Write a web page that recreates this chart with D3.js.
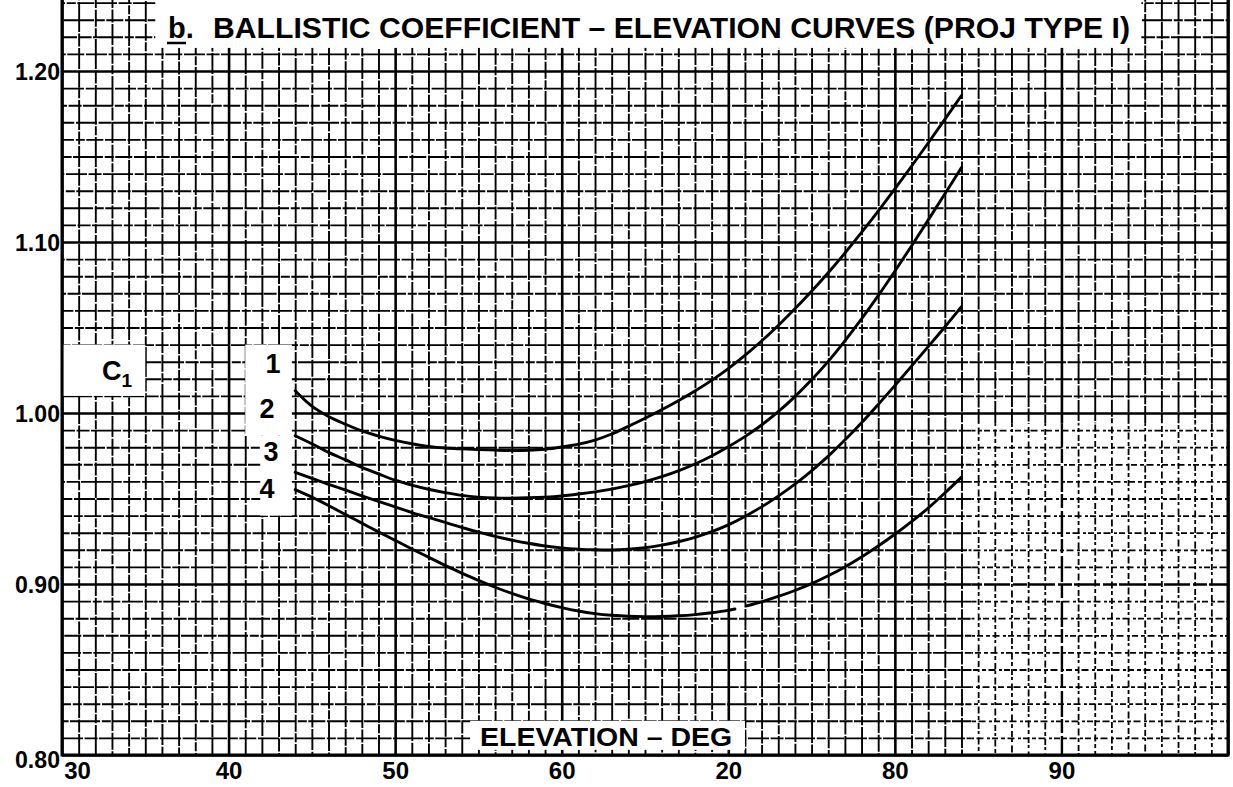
<!DOCTYPE html>
<html>
<head>
<meta charset="utf-8">
<script src="https://cdn.jsdelivr.net/npm/d3@7"></script>
<style>
  html, body { margin: 0; padding: 0; background: #fff; }
  svg { display: block; }
  text { font-family: "Liberation Sans", Arial, sans-serif; font-weight: bold; fill: #000; }
</style>
</head>
<body>
<svg id="chart" width="1233" height="787"></svg>
<script>
// Elevation (deg) at which the curves are read
const elevation = [44, 45, 46, 47, 48, 49, 50, 51, 52, 53, 54, 55, 56, 57, 58, 59, 60, 61, 62, 63, 64,
                   65, 66, 67, 68, 69, 70, 71, 72, 73, 74, 75, 76, 77, 78, 79, 80, 81, 82, 83, 84];

// Ballistic coefficient C1, curves 1-3
const curve1 = [1.013, 1.004, 0.998, 0.9935, 0.9895, 0.9865, 0.984, 0.982, 0.9805, 0.9795, 0.979,
                0.9786, 0.9783, 0.9781, 0.9782, 0.9788, 0.9801, 0.9818, 0.9842, 0.9877, 0.9922,
                0.9969, 1.0019, 1.0072, 1.0129, 1.0191, 1.026, 1.0337, 1.0421, 1.0512, 1.0609,
                1.0712, 1.082, 1.0935, 1.1056, 1.1181, 1.131, 1.1443, 1.1579, 1.1717, 1.1857];
const curve2 = [0.9867, 0.982, 0.977, 0.9727, 0.9682, 0.9644, 0.9607, 0.9578, 0.9554, 0.9534, 0.9518,
                0.9508, 0.9503, 0.9502, 0.9504, 0.9508, 0.9515, 0.9526, 0.9539, 0.9555, 0.9575,
                0.9599, 0.9628, 0.9662, 0.9702, 0.9749, 0.9803, 0.9862, 0.993, 1.0008, 1.0096,
                1.0194, 1.0302, 1.0422, 1.055, 1.0686, 1.0829, 1.0977, 1.1128, 1.1281, 1.1435];
const curve3 = [0.9653, 0.9618, 0.9583, 0.955, 0.9516, 0.9483, 0.9451, 0.9418, 0.9389, 0.936, 0.9331,
                0.9303, 0.9279, 0.9257, 0.9238, 0.9222, 0.9211, 0.9204, 0.92, 0.9199, 0.9203,
                0.9212, 0.9227, 0.9247, 0.9273, 0.9306, 0.9346, 0.9395, 0.9451, 0.9514, 0.9584,
                0.9662, 0.9748, 0.9842, 0.9943, 1.005, 1.0161, 1.0274, 1.0388, 1.0503, 1.0622];

// Curve 4 has a short break just past 70 deg (null marks the gap)
const elevation4 = [44, 45, 46, 47, 48, 49, 50, 51, 52, 53, 54, 55, 56, 57, 58, 59, 60, 61, 62, 63, 64,
                    65, 66, 67, 68, 69, 70, 70.4, 70.75, 71.1, 72, 73, 74, 75, 76, 77, 78, 79, 80,
                    81, 82, 83, 84];
const curve4 = [0.9552, 0.9508, 0.9459, 0.9407, 0.9356, 0.9305, 0.9255, 0.9205, 0.9157, 0.9109, 0.9064,
                0.9021, 0.8981, 0.8945, 0.8913, 0.8886, 0.8862, 0.8842, 0.8827, 0.8817, 0.8811,
                0.8809, 0.881, 0.8814, 0.8821, 0.8832, 0.8846, 0.8854, null, 0.8872, 0.8896,
                0.8927, 0.8962, 0.9002, 0.9048, 0.91, 0.9158, 0.9222, 0.9291, 0.9365, 0.9444,
                0.9532, 0.9625];

const curveNames = ["1", "2", "3", "4"];

// Axis ticks and labels (as lettered on the sheet)
const xTicks = [30, 40, 50, 60, 70, 80, 90];
const xTickLabels = ["30", "40", "50", "60", "20", "80", "90"];
const yTicks = [0.80, 0.90, 1.00, 1.10, 1.20];
const yTickLabels = ["0.80", "0.90", "1.00", "1.10", "1.20"];

const titleText = "BALLISTIC COEFFICIENT – ELEVATION CURVES (PROJ TYPE I)";
const xTitle = "ELEVATION – DEG";

// ---------------------------------------------------------------------------
const svg = d3.select("#chart");
const x = d3.scaleLinear().domain([30, 100]).range([62, 1228]);
const y = d3.scaleLinear().domain([0.80, 1.20]).range([755, 71]);
const yTop = 1.25;   // graph paper runs off the top of the sheet

svg.append("rect").attr("width", 1233).attr("height", 787).attr("fill", "#fff");

// ---- graph paper: 1-deg by 0.01 squares, heavier every 10 squares ----
const minorX = d3.range(30, 101).filter(d => d % 10);
const minorY = d3.range(80, 126).filter(d => d % 10).map(v => v / 100);
const majorX = d3.range(30, 101, 10);
const majorY = d3.range(80, 126, 10).map(v => v / 100);

const gridH = y(0.80) - y(yTop);
const gridW = x(100) - x(30);

// the lower right of the sheet printed lighter, with broken rulings
const faint = { x0: 84.6, x1: 100, y0: 0.994, y1: 0.80 };
const defs = svg.append("defs");
defs.append("clipPath").attr("id", "clip-main").append("path")
  .attr("clip-rule", "evenodd")
  .attr("d", `M0,-20H1233V787H0Z M${x(faint.x0)},${y(faint.y0)}H${x(faint.x1) - 1.5}V${y(faint.y1)}H${x(faint.x0)}Z`);
defs.append("clipPath").attr("id", "clip-faint").append("rect")
  .attr("x", x(faint.x0)).attr("y", y(faint.y0))
  .attr("width", x(faint.x1) - x(faint.x0)).attr("height", y(faint.y1) - y(faint.y0));

function gridLayer(parent, axis, translate, width, dash, offsetStep) {
  const g = parent.append("g").attr("transform", translate).call(axis);
  g.select(".domain").remove();
  g.selectAll(".tick line")
    .attr("stroke", "#000")
    .attr("stroke-width", width)
    .attr("stroke-dasharray", dash)
    .attr("stroke-dashoffset", (d, i) => (i * offsetStep) % 97);
  return g;
}

function paper(parent, minorW, majorW, dashMinor, dashMajor) {
  gridLayer(parent, d3.axisBottom(x).tickValues(minorX).tickSize(-gridH).tickFormat(""),
            `translate(0,${y(0.80)})`, minorW, dashMinor, 37);
  gridLayer(parent, d3.axisLeft(y).tickValues(minorY).tickSize(-gridW).tickFormat(""),
            `translate(${x(30)},0)`, minorW, dashMinor, 29);
  gridLayer(parent, d3.axisBottom(x).tickValues(majorX).tickSize(-gridH).tickFormat(""),
            `translate(0,${y(0.80)})`, majorW, dashMajor, 41);
  gridLayer(parent, d3.axisLeft(y).tickValues(majorY).tickSize(-gridW).tickFormat(""),
            `translate(${x(30)},0)`, majorW, dashMajor, 23);
}

paper(svg.append("g").attr("clip-path", "url(#clip-main)"), 1.9, 2.6,
      "21 1.6 13 1.4 30 1.8 9 1.5 17 1.7", null);
paper(svg.append("g").attr("clip-path", "url(#clip-faint)"), 1.8, 2.4,
      "6 3 4 2.5 7 3.5 3 2", "26 3 14 2");

// frame
svg.append("path")
  .attr("d", `M${x(30)},0 V${y(0.80)} H${x(100)} V0`)
  .attr("fill", "none").attr("stroke", "#000").attr("stroke-width", 3);

// ---- white lettering panels on the paper ----
const panels = [
  { x0: 35.6, x1: 94.8, y0: 1.242, y1: 1.2135 },   // title
  { x0: 30.1, x1: 35.0, y0: 1.04, y1: 1.01 },      // C1
  { x0: 41.0, x1: 43.8, y0: 1.04, y1: 0.987 },     // labels 1, 2
  { x0: 41.9, x1: 43.8, y0: 0.987, y1: 0.94 },     // labels 3, 4
  { x0: 54.5, x1: 71.0, y0: 0.82, y1: 0.803 }      // axis title
];
svg.append("g").selectAll("rect").data(panels).join("rect")
  .attr("x", d => x(d.x0)).attr("y", d => y(d.y0))
  .attr("width", d => x(d.x1) - x(d.x0)).attr("height", d => y(d.y1) - y(d.y0))
  .attr("fill", "#fff");

// ---- curves ----
const line = d3.line()
  .defined(d => d[1] != null)
  .x(d => x(d[0])).y(d => y(d[1]))
  .curve(d3.curveCatmullRom.alpha(0.5));

const series = [
  d3.zip(elevation, curve1),
  d3.zip(elevation, curve2),
  d3.zip(elevation, curve3),
  d3.zip(elevation4, curve4)
];
svg.append("g").selectAll("path").data(series).join("path")
  .attr("d", line)
  .attr("fill", "none")
  .attr("stroke", "#000")
  .attr("stroke-width", 2.9)
  .attr("stroke-linecap", "round");

// curve numbers
const nameX = [273, 267, 271, 267];
const nameY = [1.029, 1.003, 0.978, 0.956];
svg.append("g").selectAll("text").data(curveNames).join("text")
  .attr("x", (d, i) => nameX[i]).attr("y", (d, i) => y(nameY[i]) + 10)
  .attr("text-anchor", "middle")
  .attr("font-size", 27)
  .text(d => d);

// ---- axis labels ----
const xAxis = svg.append("g").attr("transform", `translate(0,${y(0.80)})`)
  .call(d3.axisBottom(x).tickValues(xTicks).tickSize(0).tickPadding(7)
          .tickFormat((d, i) => xTickLabels[i]));
xAxis.select(".domain").remove();
xAxis.selectAll("text")
  .attr("font-size", 24).attr("font-family", null).attr("fill", "#000")
  .attr("dx", d => d === 30 ? 15 : 0);

const yAxis = svg.append("g").attr("transform", `translate(${x(30)},0)`)
  .call(d3.axisLeft(y).tickValues(yTicks).tickSize(0).tickPadding(2)
          .tickFormat((d, i) => yTickLabels[i]));
yAxis.select(".domain").remove();
yAxis.selectAll("text")
  .attr("font-size", 24).attr("font-family", null).attr("fill", "#000")
  .attr("textLength", 45).attr("lengthAdjust", "spacingAndGlyphs")
  .attr("dy", d => d === 0.80 ? "0.5em" : "0.36em");

// C1 symbol
const c1 = svg.append("text").attr("x", 102).attr("y", y(1.025) + 10).attr("font-size", 27);
c1.append("tspan").text("C");
c1.append("tspan").attr("dy", 7).attr("font-size", 19).text("1");

// axis title
svg.append("text")
  .attr("x", x(54.5) + 10).attr("y", y(0.80) - 9)
  .attr("font-size", 25)
  .attr("textLength", 252).attr("lengthAdjust", "spacingAndGlyphs")
  .text(xTitle);

// chart title
svg.append("text").attr("x", 168).attr("y", 38).attr("font-size", 29).text("b.");
svg.append("line").attr("x1", 167).attr("x2", 186).attr("y1", 43).attr("y2", 43)
  .attr("stroke", "#000").attr("stroke-width", 2.5);
svg.append("text")
  .attr("x", 213).attr("y", 38).attr("font-size", 29)
  .attr("textLength", 917).attr("lengthAdjust", "spacingAndGlyphs")
  .text(titleText);
</script>
</body>
</html>
